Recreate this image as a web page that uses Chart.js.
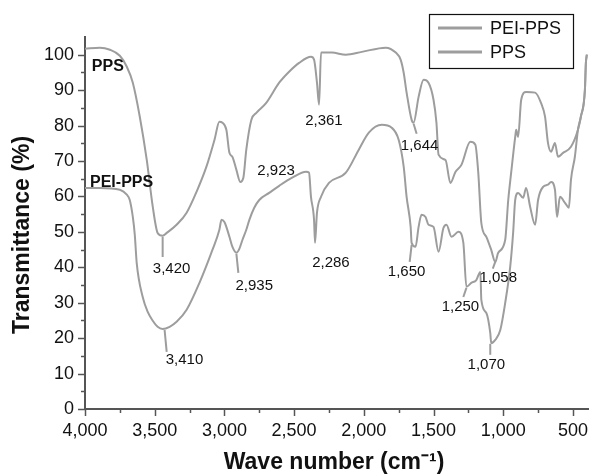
<!DOCTYPE html>
<html>
<head>
<meta charset="utf-8">
<script src="https://cdn.jsdelivr.net/npm/chart.js@4/dist/chart.umd.min.js"></script>
<style>
  body { margin: 0; background: #fff; }
  #wrap { width: 592px; height: 476px; }
</style>
</head>
<body>
<div id="wrap"><canvas id="ftirChart"></canvas></div>
<script>
// FTIR spectra (wave number in cm-1, transmittance in %)
const ppsWave = [4000, 3893, 3821, 3750, 3700, 3657, 3607, 3557, 3514, 3479, 3443, 3414, 3343, 3271, 3200, 3129, 3071, 3036, 3014, 2986, 2964, 2943, 2914, 2886, 2864, 2843, 2807, 2771, 2700, 2607, 2536, 2464, 2379, 2357, 2336, 2321, 2307, 2229, 2129, 2014, 1843, 1771, 1736, 1714, 1693, 1657, 1643, 1607, 1571, 1536, 1500, 1479, 1464, 1414, 1379, 1343, 1300, 1236, 1200, 1179, 1157, 1121, 1086, 1057, 1036, 986, 964, 943, 914, 907, 893, 871, 836, 771, 729, 700, 679, 657, 629, 607, 571, 514, 464, 443, 414, 407, 400];
const ppsT = [101.7, 102.0, 101.4, 99.7, 96.6, 92.1, 82.5, 70.3, 57.1, 49.7, 48.9, 49.7, 52.0, 55.4, 61.3, 68.4, 76.0, 81.1, 80.8, 78.8, 72.3, 71.2, 67.5, 64.1, 65.3, 73.2, 81.6, 83.6, 86.4, 92.1, 95.2, 97.7, 99.4, 98.6, 92.1, 85.9, 100.6, 100.6, 100.0, 100.8, 102.0, 100.6, 98.6, 94.9, 89.3, 81.6, 80.8, 88.1, 92.9, 92.1, 87.3, 80.8, 71.8, 70.3, 63.8, 66.9, 68.9, 75.4, 74.6, 66.7, 52.5, 48.6, 44.9, 41.5, 44.1, 47.7, 59.0, 66.7, 76.8, 78.8, 76.8, 87.3, 89.5, 89.3, 86.4, 82.5, 75.1, 72.6, 75.1, 71.2, 72.3, 74.0, 78.8, 82.5, 90.1, 97.7, 100.0];

const peiWave = [4000, 3893, 3750, 3700, 3679, 3657, 3643, 3629, 3586, 3550, 3514, 3479, 3443, 3393, 3343, 3271, 3179, 3086, 3036, 3021, 3000, 2986, 2964, 2943, 2914, 2893, 2871, 2843, 2821, 2786, 2750, 2679, 2607, 2514, 2414, 2393, 2379, 2357, 2350, 2336, 2307, 2250, 2129, 2036, 1964, 1871, 1800, 1750, 1714, 1693, 1664, 1657, 1629, 1607, 1586, 1557, 1536, 1500, 1464, 1429, 1407, 1371, 1321, 1286, 1264, 1229, 1193, 1164, 1157, 1121, 1093, 1086, 1057, 1021, 986, 950, 929, 914, 893, 857, 836, 807, 771, 750, 714, 679, 657, 629, 614, 593, 557, 529, 514, 486, 464, 443, 414, 407, 400];
const peiT = [62.4, 62.4, 61.9, 60.5, 59.0, 54.2, 49.2, 41.2, 31.6, 27.4, 24.9, 23.2, 22.6, 23.2, 24.6, 28.0, 35.6, 44.9, 50.6, 53.4, 52.8, 51.4, 48.6, 45.8, 44.1, 45.2, 47.7, 50.6, 53.4, 56.8, 59.0, 61.0, 63.0, 65.3, 67.0, 66.7, 59.9, 53.4, 46.9, 55.4, 59.9, 63.8, 66.7, 73.2, 78.0, 80.2, 79.4, 76.0, 68.4, 59.9, 51.4, 46.9, 45.8, 51.4, 54.8, 54.2, 52.0, 51.4, 44.4, 51.1, 52.0, 48.6, 50.0, 46.9, 34.5, 35.6, 36.4, 38.7, 30.8, 27.1, 21.5, 18.6, 19.5, 22.3, 29.9, 40.1, 49.7, 59.0, 61.0, 59.6, 62.4, 57.1, 52.0, 59.0, 62.7, 63.3, 64.1, 61.9, 54.2, 59.9, 58.2, 56.8, 64.7, 71.2, 78.8, 82.5, 90.1, 97.7, 100.0];

const xTickValues = [4000, 3500, 3000, 2500, 2000, 1500, 1000, 500];
const yTickValues = [0, 10, 20, 30, 40, 50, 60, 70, 80, 90, 100];

// peak labels: text, label centre (wave, T), optional leader line (wave, T) -> (wave, T)
const peakLabels = [
    { text: '3,420', at: [3379, 39.5], lead: [[3443, 48.6], [3443, 42.9]] },
    { text: '2,923', at: [2629, 67.2] },
    { text: '2,935', at: [2786, 34.7], lead: [[2914, 43.8], [2900, 38.4]] },
    { text: '3,410', at: [3286, 13.8], lead: [[3429, 22.3], [3414, 16.1]] },
    { text: '2,361', at: [2286, 81.4] },
    { text: '2,286', at: [2236, 41.2] },
    { text: '1,644', at: [1600, 74.3], lead: [[1643, 80.5], [1621, 77.7]] },
    { text: '1,650', at: [1693, 38.7], lead: [[1657, 46.3], [1671, 41.5]] },
    { text: '1,058', at: [1036, 37.0], lead: [[1057, 41.5], [1075, 39.6]] },
    { text: '1,250', at: [1307, 28.8], lead: [[1286, 31.6], [1264, 34.2]] },
    { text: '1,070', at: [1121, 12.4], lead: [[1093, 18.4], [1093, 15.3]] }
];
const curveNames = [
    { text: 'PPS', at: [3951, 96.6] },
    { text: 'PEI-PPS', at: [3964, 63.8] }
];

const lineGrey = '#9d9d9d';
const axisGrey = '#555';

function toPoints(xs, ys) {
    return xs.map((v, i) => ({ x: v, y: ys[i] }));
}

const decorPlugin = {
    id: 'decor',
    afterDraw(chart) {
        const ctx = chart.ctx;
        const x = chart.scales.x;
        const y = chart.scales.y;
        ctx.save();

        // tick marks, major and minor
        ctx.strokeStyle = axisGrey;
        ctx.lineWidth = 1.5;
        for (let v = 4000; v >= 500; v -= 250) {
            const px = Math.round(x.getPixelForValue(v)) + 0.5;
            const len = v % 500 === 0 ? 7 : 4;
            ctx.beginPath();
            ctx.moveTo(px, y.bottom);
            ctx.lineTo(px, y.bottom + len);
            ctx.stroke();
        }
        for (let v = 0; v <= 100; v += 5) {
            const py = Math.round(y.getPixelForValue(v)) + 0.5;
            const len = v % 10 === 0 ? 7 : 4;
            ctx.beginPath();
            ctx.moveTo(x.left, py);
            ctx.lineTo(x.left - len, py);
            ctx.stroke();
        }

        // peak labels with leader lines
        ctx.font = '15px Arial, "Liberation Sans", sans-serif';
        ctx.fillStyle = '#111';
        ctx.textAlign = 'center';
        ctx.textBaseline = 'middle';
        ctx.strokeStyle = lineGrey;
        ctx.lineWidth = 2;
        peakLabels.forEach(p => {
            if (p.lead) {
                ctx.beginPath();
                ctx.moveTo(x.getPixelForValue(p.lead[0][0]), y.getPixelForValue(p.lead[0][1]));
                ctx.lineTo(x.getPixelForValue(p.lead[1][0]), y.getPixelForValue(p.lead[1][1]));
                ctx.stroke();
            }
            ctx.fillText(p.text, x.getPixelForValue(p.at[0]), y.getPixelForValue(p.at[1]));
        });

        // curve names
        ctx.font = 'bold 16px Arial, "Liberation Sans", sans-serif';
        ctx.textAlign = 'left';
        curveNames.forEach(c => {
            ctx.fillText(c.text, x.getPixelForValue(c.at[0]), y.getPixelForValue(c.at[1]));
        });

        // legend box
        ctx.fillStyle = '#fff';
        ctx.fillRect(429.5, 14.5, 144, 54);
        ctx.strokeStyle = '#111';
        ctx.lineWidth = 1.2;
        ctx.strokeRect(429.5, 14.5, 144, 54);
        ctx.font = '18px Arial, "Liberation Sans", sans-serif';
        chart.data.datasets.forEach((ds, i) => {
            const ly = 28 + i * 24;
            ctx.strokeStyle = ds.borderColor;
            ctx.lineWidth = 3;
            ctx.beginPath();
            ctx.moveTo(438, ly);
            ctx.lineTo(482, ly);
            ctx.stroke();
            ctx.fillStyle = '#111';
            ctx.fillText(ds.label, 490, ly + 1);
        });

        // axis titles
        ctx.font = 'bold 23px Arial, "Liberation Sans", sans-serif';
        ctx.fillStyle = '#111';
        ctx.textAlign = 'center';
        ctx.fillText('Wave number (cm\u207B\u00B9)', 334, 463);
        ctx.translate(23, 235);
        ctx.rotate(-Math.PI / 2);
        ctx.fillText('Transmittance (%)', 0, 0);

        ctx.restore();
    }
};

window.onload = function() {
    const ctx = document.getElementById('ftirChart').getContext('2d');
    const ftirChart = new Chart(ctx, {
        type: 'line',
        data: {
            datasets: [{
                label: 'PEI-PPS',
                data: toPoints(peiWave, peiT),
                borderColor: lineGrey,
                borderWidth: 2,
                pointRadius: 0,
                cubicInterpolationMode: 'monotone'
            }, {
                label: 'PPS',
                data: toPoints(ppsWave, ppsT),
                borderColor: lineGrey,
                borderWidth: 2,
                pointRadius: 0,
                cubicInterpolationMode: 'monotone'
            }]
        },
        options: {
            responsive: true,
            maintainAspectRatio: false,
            animation: false,
            layout: { padding: { top: 37, right: 2, left: 0, bottom: 0 } },
            scales: {
                x: {
                    type: 'linear',
                    reverse: true,
                    min: 390,
                    max: 4000,
                    afterBuildTicks: s => { s.ticks = xTickValues.map(v => ({ value: v })); },
                    afterFit: s => { s.height = 67; },
                    grid: { display: false, drawTicks: true, tickLength: 7 },
                    border: { display: true, color: axisGrey, width: 2 },
                    ticks: {
                        padding: 4,
                        maxRotation: 0,
                        color: '#111',
                        font: { family: 'Arial, "Liberation Sans", sans-serif', size: 18 },
                        callback: v => v.toLocaleString('en-US')
                    }
                },
                y: {
                    min: 0,
                    max: 105,
                    afterBuildTicks: s => { s.ticks = yTickValues.map(v => ({ value: v })); },
                    afterFit: s => { s.width = 85; },
                    grid: { display: false, drawTicks: true, tickLength: 7 },
                    border: { display: true, color: axisGrey, width: 2 },
                    ticks: {
                        padding: 4,
                        color: '#111',
                        font: { family: 'Arial, "Liberation Sans", sans-serif', size: 18 }
                    }
                }
            },
            plugins: {
                legend: { display: false },
                tooltip: { enabled: false }
            }
        },
        plugins: [decorPlugin]
    });
};
</script>
</body>
</html>
